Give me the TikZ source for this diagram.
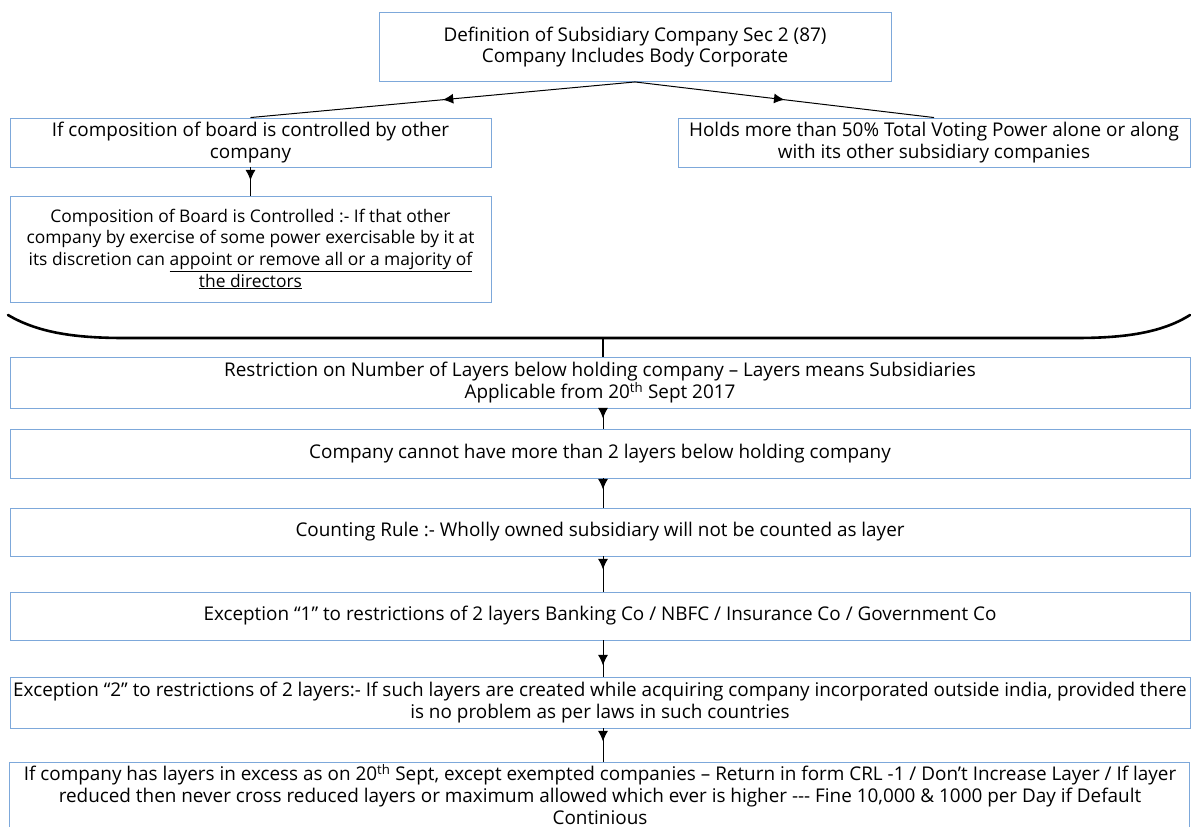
\documentclass[tikz,border=0pt]{standalone}
\usepackage{fontspec}
\setmainfont{Open Sans}
\usetikzlibrary{arrows.meta,decorations.markings}
\definecolor{boxblue}{RGB}{125,168,218}
\begin{document}
\begin{tikzpicture}[x=1pt,y=-1pt,
  box/.style={draw=boxblue, line width=0.9pt, fill=white, align=center,
    inner sep=0pt, font=\fontsize{18.9}{21.8}\selectfont},
  link/.style={line width=1pt},
  headat/.style={postaction={decorate}, decoration={markings,
    mark=at position #1 with {\arrow{Latex[length=10.5pt,width=10pt]}}}},
]
\useasboundingbox (0,0) rectangle (1191,827);
\fill[white] (0,0) rectangle (1191,827);

% upper part: definition and its two tests
\node[box, minimum width=512pt, minimum height=69pt] (def) at (635,47)
  {Definition of Subsidiary Company Sec 2 (87)\\Company Includes Body Corporate};
\node[box, minimum width=481pt, minimum height=49pt] (board) at (250.5,142.5)
  {If composition of board is controlled by other\\company};
\node[box, minimum width=512pt, minimum height=49pt] (voting) at (934,142.5)
  {Holds more than 50\% Total Voting Power alone or along\\with its other subsidiary companies};
\node[box, minimum width=481pt, minimum height=106pt,
      font=\fontsize{17.4}{21.7}\selectfont] (control) at (250.5,249)
  {Composition of Board is Controlled :- If that other\\
   company by exercise of some power exercisable by it at\\
   its discretion can \underline{appoint or remove all or a majority of}\\
   \underline{the directors}};

\draw[link, headat=0.5] (def.south) -- (board.north);
\draw[link, headat=0.5] (def.south) -- (voting.north);
\draw[link, headat=13pt] (board.south) -- (control.north);

% brace gathering both tests
\coordinate (brace) at (603,338);
\draw[line width=2.6pt, line cap=round]
  (8,315) .. controls (40,334) and (80,338) .. (125,338) -- (1075,338)
  .. controls (1120,338) and (1160,334) .. (1190,315);

% layer restriction chain
\node[box, minimum width=1180pt, minimum height=51pt] (r1) at (600,382.5)
  {Restriction on Number of Layers below holding company – Layers means Subsidiaries\\
   Applicable from 20\textsuperscript{th} Sept 2017};
\node[box, minimum width=1180pt, minimum height=49pt] (r2) at (600,453.5)
  {Company cannot have more than 2 layers below holding company};
\node[box, minimum width=1180pt, minimum height=48pt] (r3) at (600,532)
  {Counting Rule :- Wholly owned subsidiary will not be counted as layer};
\node[box, minimum width=1180pt, minimum height=48pt] (r4) at (600,616)
  {Exception “1” to restrictions of 2 layers Banking Co / NBFC / Insurance Co / Government Co};
\node[box, minimum width=1180pt, minimum height=51pt] (r5) at (600,702.5)
  {Exception “2” to restrictions of 2 layers:- If such layers are created while acquiring company incorporated outside india, provided there\\
   is no problem as per laws in such countries};
% the last box runs past the lower edge of the page
\node[box, draw=none, minimum width=1180pt, minimum height=64pt, anchor=north] (r6) at (600,762)
  {If company has layers in excess as on 20\textsuperscript{th} Sept, except exempted companies – Return in form CRL -1 / Don’t Increase Layer / If layer\\
   reduced then never cross reduced layers or maximum allowed which ever is higher -{}-{}- Fine 10,000 \& 1000 per Day if Default\\
   Continious};
\draw[draw=boxblue, line width=0.9pt] (r6.north west) rectangle ++(1180,90);

\draw[line width=2pt] (brace) -- (r1.north -| brace);
\draw[link, headat=10pt] (r1.south -| brace) -- (r2.north -| brace);
\draw[link, headat=11pt] (r2.south -| brace) -- (r3.north -| brace);
\draw[link, headat=13pt] (r3.south -| brace) -- (r4.north -| brace);
\draw[link, headat=25pt] (r4.south -| brace) -- (r5.north -| brace);
\draw[link, headat=13pt] (r5.south -| brace) -- (r6.north -| brace);
\end{tikzpicture}
\end{document}
